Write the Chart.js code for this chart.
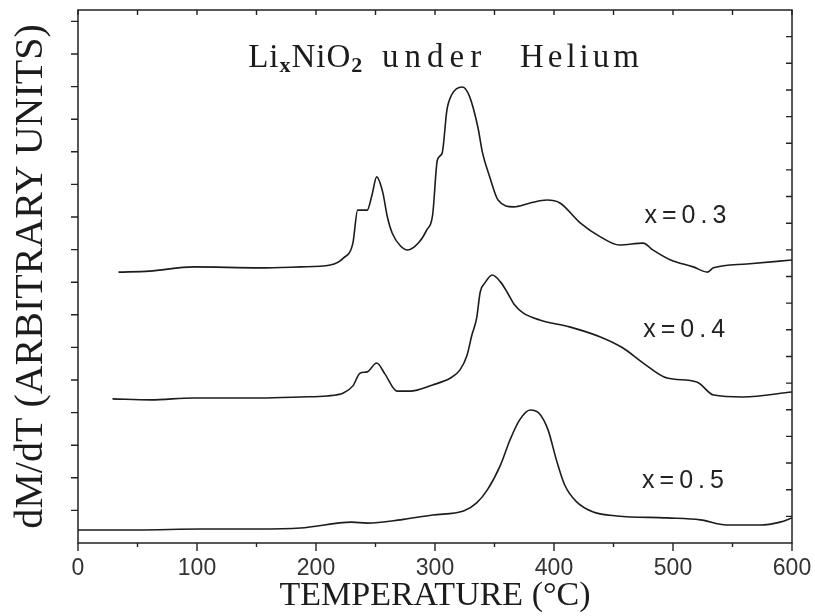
<!DOCTYPE html>
<html>
<head>
<meta charset="utf-8">
<script src="https://cdn.jsdelivr.net/npm/chart.js@4.4.1/dist/chart.umd.min.js"></script>
<style>
  body { margin: 0; background: #fff; }
</style>
</head>
<body>
<canvas id="chart-dtg" width="815" height="616"></canvas>
<script>
// temperatures (°C) and dM/dT readings (arbitrary units, one unit = one left tick)
const temps03 = [34, 60, 97, 153, 187, 212, 223, 231, 235, 243, 247, 251, 256, 260, 264, 271, 277, 286, 293, 298, 302, 306, 310, 314, 323, 329, 336, 340, 346, 353, 366, 380, 394, 405, 422, 439, 455, 475, 483, 498, 517, 529, 534, 562, 600];
const dmdt03 = [8.31, 8.34, 8.47, 8.44, 8.47, 8.53, 8.74, 9.20, 10.21, 10.21, 10.67, 11.23, 10.77, 10.0, 9.51, 9.11, 8.99, 9.20, 9.60, 10.06, 11.75, 11.96, 13.28, 13.75, 13.99, 13.70, 12.76, 11.96, 11.23, 10.52, 10.31, 10.43, 10.52, 10.43, 9.82, 9.39, 9.14, 9.20, 8.99, 8.68, 8.47, 8.31, 8.44, 8.56, 8.68];

const temps04 = [29, 61, 97, 153, 187, 209, 223, 231, 237, 243, 251, 258, 268, 279, 298, 313, 321, 327, 331, 335, 338, 342, 348, 355, 361, 367, 374, 388, 413, 439, 458, 475, 495, 520, 534, 559, 600];
const dmdt04 = [4.42, 4.39, 4.45, 4.45, 4.48, 4.51, 4.60, 4.82, 5.21, 5.25, 5.52, 5.18, 4.66, 4.66, 4.85, 5.06, 5.31, 5.77, 6.38, 6.90, 7.70, 7.98, 8.22, 8.01, 7.67, 7.30, 7.06, 6.84, 6.63, 6.32, 5.98, 5.52, 5.06, 4.94, 4.54, 4.48, 4.63];

const temps05 = [0, 50, 103, 150, 187, 230, 243, 271, 298, 324, 335, 344, 355, 363, 371, 380, 388, 395, 402, 409, 419, 433, 453, 495, 523, 545, 573, 590, 600];
const dmdt05 = [0.40, 0.40, 0.43, 0.43, 0.46, 0.64, 0.61, 0.71, 0.86, 0.98, 1.23, 1.63, 2.39, 3.16, 3.77, 4.08, 3.96, 3.47, 2.55, 1.78, 1.26, 0.95, 0.83, 0.77, 0.71, 0.55, 0.55, 0.64, 0.77];

// curve labels
const curveLabels = ['x=0.3', 'x=0.4', 'x=0.5'];
const curveLabelT = [476, 475, 474];
const curveLabelY = [9.82, 6.32, 1.69];

// x axis ticks
const xMajorTicks = [0, 100, 200, 300, 400, 500, 600];
const xMinorTicks = [50, 150, 250, 350, 450, 550];

function toPoints(xs, ys) {
	return xs.map(function (t, i) { return { x: t, y: ys[i] }; });
}

function lineSet(xs, ys, name) {
	return {
		label: name,
		data: toPoints(xs, ys),
		borderColor: '#1c1c1c',
		borderWidth: 1.6,
		pointRadius: 0,
		fill: false,
		cubicInterpolationMode: 'monotone'
	};
}

// frame, inward/outward ticks, title and curve labels
const decorPlugin = {
	id: 'decor',
	afterDraw: function (chart) {
		const ctx = chart.ctx;
		const a = chart.chartArea;
		const xs = chart.scales.x;
		const yl = chart.scales.y;
		const yr = chart.scales.yRight;
		ctx.save();
		ctx.strokeStyle = '#222';
		ctx.lineWidth = 1.5;
		ctx.strokeRect(a.left, a.top, a.right - a.left, a.bottom - a.top);

		ctx.lineWidth = 1.4;
		ctx.beginPath();
		xMajorTicks.forEach(function (v) {
			const px = xs.getPixelForValue(v);
			ctx.moveTo(px, a.bottom); ctx.lineTo(px, a.bottom + 8);
			ctx.moveTo(px, a.top); ctx.lineTo(px, a.top + 5);
		});
		xMinorTicks.forEach(function (v) {
			const px = xs.getPixelForValue(v);
			ctx.moveTo(px, a.bottom); ctx.lineTo(px, a.bottom + 4);
			ctx.moveTo(px, a.top); ctx.lineTo(px, a.top + 5);
		});
		for (let v = 1; v <= 16; v++) {
			const py = yl.getPixelForValue(v);
			ctx.moveTo(a.left - 7, py); ctx.lineTo(a.left, py);
		}
		for (let v = 1; v < 20; v++) {
			const py = yr.getPixelForValue(v);
			ctx.moveTo(a.right - 6, py); ctx.lineTo(a.right, py);
		}
		ctx.stroke();

		// title with subscripts
		ctx.fillStyle = '#1c1c1c';
		ctx.textBaseline = 'alphabetic';
		ctx.textAlign = 'left';
		ctx.letterSpacing = '1px';
		const ty = yl.getPixelForValue(14.6);
		const big = '33px "Liberation Serif"';
		const small = 'bold 22px "Liberation Serif"';
		let tx = xs.getPixelForValue(143);
		const parts = [['Li', big, 0], ['x', small, 5], ['NiO', big, 0], ['2', small, 5]];
		parts.forEach(function (p) {
			ctx.font = p[1];
			ctx.fillText(p[0], tx, ty + p[2]);
			tx += ctx.measureText(p[0]).width;
		});
		ctx.font = big;
		ctx.letterSpacing = '6px';
		ctx.fillText('under', xs.getPixelForValue(255.5), ty);
		ctx.letterSpacing = '4px';
		ctx.fillText('Helium', xs.getPixelForValue(371.4), ty);

		ctx.font = '25px "Liberation Sans"';
		ctx.letterSpacing = '5px';
		ctx.fillStyle = '#222';
		curveLabels.forEach(function (txt, i) {
			ctx.fillText(txt, xs.getPixelForValue(curveLabelT[i]), yl.getPixelForValue(curveLabelY[i]));
		});
		ctx.restore();
	}
};

document.addEventListener('DOMContentLoaded', function () {
	const ctxDtg = document.getElementById('chart-dtg').getContext('2d');
	new Chart(ctxDtg, {
		type: 'line',
		data: {
			datasets: [
				lineSet(temps03, dmdt03, 'x=0.3'),
				lineSet(temps04, dmdt04, 'x=0.4'),
				lineSet(temps05, dmdt05, 'x=0.5')
			]
		},
		options: {
			responsive: false,
			animation: false,
			devicePixelRatio: 1,
			layout: { padding: { top: 10, right: 23, left: 0, bottom: 0 } },
			scales: {
				x: {
					type: 'linear',
					min: 0,
					max: 600,
					grid: { display: false, drawTicks: false },
					border: { display: false },
					ticks: {
						stepSize: 100,
						padding: 12,
						color: '#333',
						font: { family: 'Liberation Sans', size: 23 }
					},
					title: {
						display: true,
						text: 'TEMPERATURE (°C)',
						color: '#1c1c1c',
						font: { family: 'Liberation Serif', size: 34 },
						padding: { top: 0, bottom: 0 }
					},
					afterFit: function (scale) {
						scale.height = 73;
						scale.paddingLeft = 0;
						scale.paddingRight = 0;
					}
				},
				y: {
					min: 0,
					max: 16.35,
					grid: { display: false, drawTicks: false },
					border: { display: false },
					ticks: { display: false, stepSize: 1 },
					title: {
						display: true,
						text: 'dM/dT (ARBITRARY UNITS)',
						color: '#1c1c1c',
						font: { family: 'Liberation Serif', size: 40 },
						padding: { top: 7, bottom: 0 }
					},
					afterFit: function (scale) {
						scale.width = 78;
						scale.paddingTop = 0;
						scale.paddingBottom = 0;
					}
				},
				yRight: {
					position: 'right',
					display: false,
					min: 0,
					max: 20
				}
			},
			plugins: {
				legend: { display: false },
				tooltip: { enabled: false }
			}
		},
		plugins: [decorPlugin]
	});
});
</script>
</body>
</html>
